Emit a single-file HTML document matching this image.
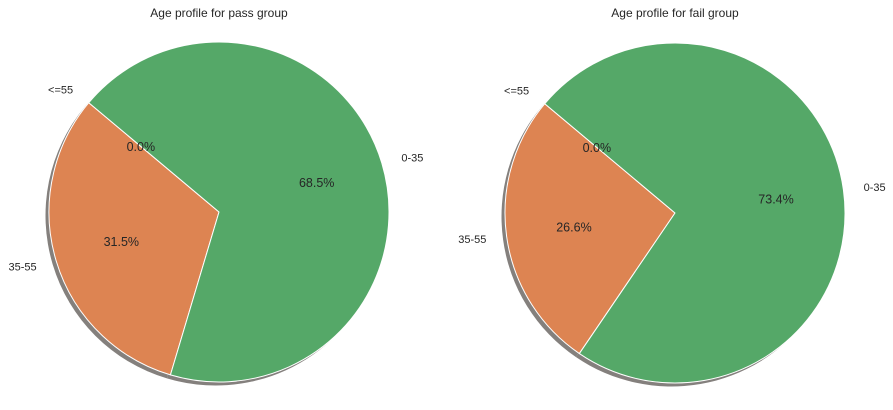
<!DOCTYPE html>
<html><head><meta charset="utf-8">
<style>
html,body{margin:0;padding:0;background:#fff;}
svg{display:block;font-family:"Liberation Sans","DejaVu Sans",sans-serif;}
</style></head>
<body>
<svg id="chart" width="893" height="410" viewBox="0 0 893 410"></svg>
<script>
const categories = ['<=55', '35-55', '0-35'];
const passValues = [0.0, 31.5, 68.5];
const failValues = [0.0, 26.6, 73.4];
const titles = ['Age profile for pass group', 'Age profile for fail group'];
const colors = ['#4c72b0', '#dd8452', '#55a868'];
const startAngle = 140;

const NS = 'http://www.w3.org/2000/svg';
const svg = document.getElementById('chart');
function mk(tag, attrs, parent) {
  const e = document.createElementNS(NS, tag);
  for (const k in attrs) e.setAttribute(k, attrs[k]);
  (parent || svg).appendChild(e);
  return e;
}
function pt(cx, cy, r, deg) {
  const a = deg * Math.PI / 180;
  return [cx + r * Math.cos(a), cy - r * Math.sin(a)];
}
function wedgePath(cx, cy, r, a0, a1) {
  const p0 = pt(cx, cy, r, a0), p1 = pt(cx, cy, r, a1);
  const large = (a1 - a0) > 180 ? 1 : 0;
  return `M${cx},${cy} L${p0[0]},${p0[1]} A${r},${r} 0 ${large} 0 ${p1[0]},${p1[1]} Z`;
}
function drawPie(values, cx, cy, r, title, idx) {
  const g = mk('g', {});
  
  
  const t = mk('text', {x: cx, y: 17, 'text-anchor': 'middle', 'font-size': 12, fill: '#262626'}, g);
  t.textContent = title;
  
  
  const total = values.reduce((a, b) => a + b, 0);
  let a = startAngle;
  values.forEach(v => {
    const span = v / total * 360;
    if (span > 0) {
      const s = mk('path', {d: wedgePath(cx - 3.5, cy + 3.5, r, a, a + span), fill: '#6e6a66', opacity: 0.85}, g);
      
      
    }
    a += span;
  });
  a = startAngle;
  values.forEach((v, i) => {
    const span = v / total * 360;
    if (span > 0) {
      const w = mk('path', {d: wedgePath(cx, cy, r, a, a + span), fill: colors[i], stroke: '#fff', 'stroke-width': 1, 'stroke-linejoin': 'round'}, g);
      
      
    } else {
      const p = pt(cx, cy, r, a);
      const l = mk('line', {x1: cx, y1: cy, x2: p[0], y2: p[1], stroke: '#fff', 'stroke-width': 1}, g);
      
      
    }
    a += span;
  });
  a = startAngle;
  values.forEach((v, i) => {
    const span = v / total * 360;
    const mid = a + span / 2;
    const lp = pt(cx, cy, r * 1.12, mid);
    const cosm = Math.cos(mid * Math.PI / 180);
    const lab = mk('text', {x: lp[0], y: lp[1] + 4, 'text-anchor': cosm < 0 ? 'end' : 'start', 'font-size': 11, fill: '#262626'}, g);
    lab.textContent = categories[i];
    
    
    const pp = pt(cx, cy, r * 0.6, mid);
    const pc = mk('text', {x: pp[0], y: pp[1] + 4.5, 'text-anchor': 'middle', 'font-size': 12.5, fill: '#262626'}, g);
    pc.textContent = v.toFixed(1) + '%';
    
    
    a += span;
  });
}
drawPie(passValues, 219, 212, 170, titles[0], 0);
drawPie(failValues, 675, 213, 170, titles[1], 1);
</script>
</body></html>
